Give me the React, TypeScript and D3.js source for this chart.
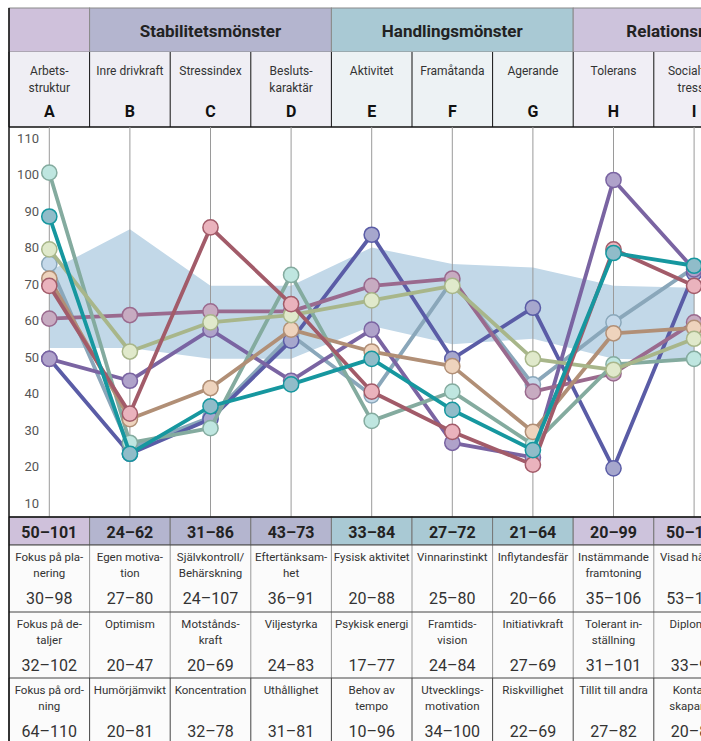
import * as d3 from 'd3';
import React from 'react';

// columns
const letters = ['A', 'B', 'C', 'D', 'E', 'F', 'G', 'H', 'I', 'J'];
const subLabels = [
  ['Arbets-', 'struktur'], ['Inre drivkraft'], ['Stressindex'], ['Besluts-', 'karaktär'],
  ['Aktivitet'], ['Framåtanda'], ['Agerande'], ['Tolerans'], ['Socialt in-', 'tresse'], ['Kommuni-', 'kation'],
];

// group header
const groupNames = ['', 'Stabilitetsmönster', 'Handlingsmönster', 'Relationsmönster'];
const groupStarts = [0, 1, 4, 7];
const groupSpans = [1, 3, 3, 3];
const groupColors = ['#cfc1db', '#b4b5cf', '#a9c9d4', '#cdc3dc'];
const subColors = ['#efeef4', '#efeef4', '#efeef4', '#efeef4', '#edf2f4', '#edf2f4', '#edf2f4', '#f0eef5', '#f0eef5', '#f0eef5'];

// table below chart
const topRanges = ['50–101', '24–62', '31–86', '43–73', '33–84', '27–72', '21–64', '20–99', '50–100', '40–90'];
const row1Labels = [['Fokus på pla-', 'nering'], ['Egen motiva-', 'tion'], ['Självkontroll/', 'Behärskning'], ['Eftertänksam-', 'het'], ['Fysisk aktivitet'], ['Vinnarinstinkt'], ['Inflytandesfär'], ['Instämmande', 'framtoning'], ['Visad hänsyn'], ['']];
const row1Ranges = ['30–98', '27–80', '24–107', '36–91', '20–88', '25–80', '20–66', '35–106', '53–100', ''];
const row2Labels = [['Fokus på de-', 'taljer'], ['Optimism'], ['Motstånds-', 'kraft'], ['Viljestyrka'], ['Psykisk energi'], ['Framtids-', 'vision'], ['Initiativkraft'], ['Tolerant in-', 'ställning'], ['Diplomati'], ['']];
const row2Ranges = ['32–102', '20–47', '20–69', '24–83', '17–77', '24–84', '27–69', '31–101', '33–90', ''];
const row3Labels = [['Fokus på ord-', 'ning'], ['Humörjämvikt'], ['Koncentration'], ['Uthållighet'], ['Behov av', 'tempo'], ['Utvecklings-', 'motivation'], ['Riskvillighet'], ['Tillit till andra'], ['Kontakt-', 'skapande'], ['']];
const row3Ranges = ['64–110', '20–81', '32–78', '31–81', '10–96', '34–100', '22–69', '27–82', '20–80', ''];

// norm band (A..I)
const bandLow = [52.5, 52.5, 49.5, 49.5, 58.5, 53.5, 55, 49.5, 49];
const bandHigh = [73.5, 85, 69.5, 69.5, 80, 75.5, 74.5, 69.5, 69];

// series values (A..I)
const lightBlue = [75.5, 25, 33.5, 56, 39.5, 71, 42.5, 59.5, 74.5];
const indigo = [49.5, 23.5, 33, 54.5, 83.5, 49.5, 63.5, 19.5, 73];
const purple = [49.5, 43.5, 57.5, 43.5, 57.5, 26.5, 22.5, 98.5, 74];
const mauve = [60.5, 61.5, 62.5, 62.5, 69.5, 71.5, 40.5, 45.5, 59.5];
const mint = [100.5, 26.5, 30.5, 72.5, 32.5, 40.5, 26, 48, 49.5];
const tan = [71.5, 33, 41.5, 57.5, 51.5, 47.5, 29.5, 56.5, 58];
const lightGreen = [79.5, 51.5, 59.5, 61.5, 65.5, 69.5, 49.5, 46.5, 55];
const pink = [69.5, 34.5, 85.5, 64.5, 40.5, 29.5, 20.5, 79.5, 69.5];
const teal = [88.5, 23.5, 36.5, 42.5, 49.5, 35.5, 24.5, 78.5, 75];

const seriesList = [lightBlue, indigo, purple, mauve, mint, tan, lightGreen, pink, teal];
const strokes = ['#8aa7ba', '#5a5ca6', '#7a64a2', '#9a6a8e', '#84ab9f', '#b18f76', '#a8b68a', '#a25b69', '#16979f'];
const fills = ['#c5d9ea', '#a6a7cd', '#afa2ca', '#c7abc1', '#bfe6e0', '#eed3bd', '#e0e9cb', '#eab3bd', '#90bcc9'];

const yTicks = [10, 20, 30, 40, 50, 60, 70, 80, 90, 100, 110];

const FONT = 'Roboto, sans-serif';

export default function App() {
  const W = 701, H = 741;
  const top = 8, groupBot = 52, subBot = 127, chartBot = 517, rangeBot = 545;
  const rowTops = [545, 612, 678, 745];

  const x = d3.scaleBand().domain(letters).range([9, 9 + 80.6 * letters.length]);
  const bw = x.bandwidth();
  const cx = (i: number) => (x(letters[i]) as number) + bw / 2;
  const y = d3.scaleLinear().domain([10, 110]).range([503, 138]);

  const area = d3.area<number>()
    .x((d, i) => cx(i))
    .y0((d, i) => y(bandLow[i]))
    .y1(d => y(d));
  const line = d3.line<number>()
    .x((d, i) => cx(i))
    .y(d => y(d));

  const rows = [
    { labels: row1Labels, ranges: row1Ranges, vline: '#999' },
    { labels: row2Labels, ranges: row2Ranges, vline: '#999' },
    { labels: row3Labels, ranges: row3Ranges, vline: '#444' },
  ];

  return (
    <div style={{ position: 'fixed', left: 0, top: 0, width: W, height: H, overflow: 'hidden', background: '#fff' }}>
      <svg width={W} height={H} style={{ display: 'block', fontFamily: FONT }}>
        {/* group header */}
        {groupNames.map((g, gi) => {
          const x0 = x(letters[groupStarts[gi]]) as number;
          const w = bw * groupSpans[gi];
          return (
            <g key={'g' + gi}>
              <rect x={x0} y={top} width={w} height={groupBot - top} fill={groupColors[gi]} stroke="#8a8a8a" strokeWidth={1} />
              <text x={x0 + w / 2} y={(top + groupBot) / 2 + 1} textAnchor="middle" dominantBaseline="central"
                fontSize={17} fontWeight={700} fill="#222">{g}</text>
            </g>
          );
        })}
        {/* sub header */}
        {letters.map((l, i) => (
          <g key={'s' + l}>
            <rect x={x(l)} y={groupBot} width={bw} height={subBot - groupBot} fill={subColors[i]} />
            <line x1={x(l)} x2={x(l)} y1={groupBot} y2={subBot} stroke="#111" strokeWidth={1} />
            {subLabels[i].map((t, k) => (
              <text key={k} x={cx(i)} y={71 + k * 17} textAnchor="middle" dominantBaseline="central" fontSize={12} fill="#333">{t}</text>
            ))}
            <text x={cx(i)} y={111} textAnchor="middle" dominantBaseline="central" fontSize={16} fontWeight={700} fill="#111">{l}</text>
          </g>
        ))}
        <line x1={9} x2={W} y1={subBot} y2={subBot} stroke="#111" strokeWidth={1.5} />

        {/* chart area */}
        <path d={area(bandHigh) || ''} fill="#c2d8e8" />
        {letters.map((l, i) => (
          <line key={'v' + l} x1={cx(i)} x2={cx(i)} y1={subBot} y2={chartBot} stroke="#9a9a9a" strokeWidth={1} />
        ))}
        {yTicks.map(t => (
          <text key={'t' + t} x={39} y={y(t)} textAnchor="end" dominantBaseline="central" fontSize={13} fill="#555">{t}</text>
        ))}
        {seriesList.map((s, si) => (
          <g key={'ser' + si}>
            <path d={line(s) || ''} fill="none" stroke={strokes[si]} strokeWidth={3.8} strokeLinejoin="round" />
            {s.map((v, i) => (
              <circle key={i} cx={cx(i)} cy={y(v)} r={7.6} fill={fills[si]} stroke={strokes[si]} strokeWidth={1.5} />
            ))}
          </g>
        ))}

        {/* range header row */}
        {letters.map((l, i) => {
          const gi = groupStarts.filter(s => s <= i).length - 1;
          return (
            <g key={'r' + l}>
              <rect x={x(l)} y={chartBot} width={bw} height={rangeBot - chartBot} fill={groupColors[gi]} stroke="#777" strokeWidth={1} />
              <text x={cx(i)} y={(chartBot + rangeBot) / 2 + 1} textAnchor="middle" dominantBaseline="central"
                fontSize={16} fontWeight={700} fill="#222">{topRanges[i]}</text>
            </g>
          );
        })}
        <line x1={9} x2={W} y1={chartBot} y2={chartBot} stroke="#111" strokeWidth={1.5} />

        {/* detail rows */}
        {rows.map((r, ri) => (
          <g key={'row' + ri}>
            {letters.map((l, i) => (
              <g key={l}>
                <rect x={x(l)} y={rowTops[ri]} width={bw} height={rowTops[ri + 1] - rowTops[ri]} fill="#fbfbfb" />
                <line x1={x(l)} x2={x(l)} y1={rowTops[ri]} y2={rowTops[ri + 1]} stroke={r.vline} strokeWidth={1} />
                {r.labels[i].map((t, k) => (
                  <text key={k} x={cx(i)} y={rowTops[ri] + 12 + k * 16} textAnchor="middle" dominantBaseline="central" fontSize={11.5} fill="#333">{t}</text>
                ))}
                <text x={cx(i)} y={rowTops[ri] + 53} textAnchor="middle" dominantBaseline="central" fontSize={16} fill="#333">{r.ranges[i]}</text>
              </g>
            ))}
            <line x1={9} x2={W} y1={rowTops[ri]} y2={rowTops[ri]} stroke="#444" strokeWidth={1} />
          </g>
        ))}

        {/* outer left border */}
        <line x1={9} x2={9} y1={top} y2={H} stroke="#111" strokeWidth={1.5} />
      </svg>
    </div>
  );
}
